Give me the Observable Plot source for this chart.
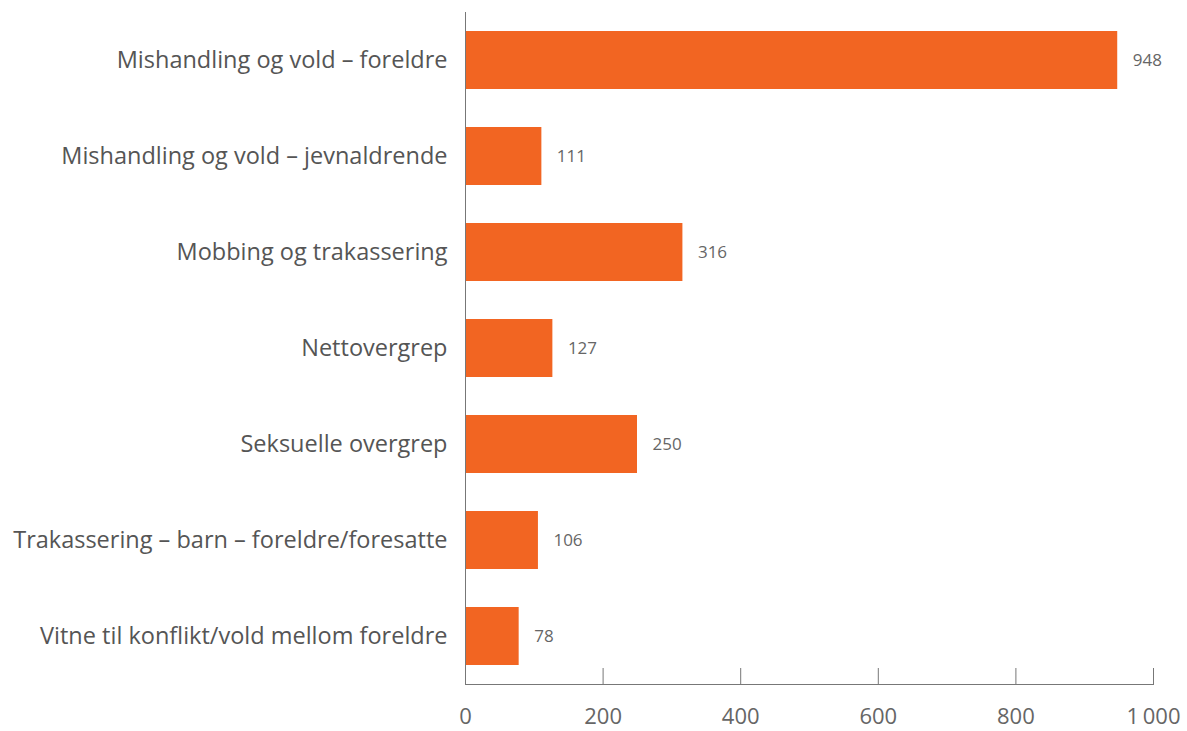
<!DOCTYPE html>
<html>
<head>
<meta charset="utf-8">
<script src="https://cdn.jsdelivr.net/npm/d3@7"></script>
<script src="https://cdn.jsdelivr.net/npm/@observablehq/plot@0.6"></script>
<style>
  html, body { margin: 0; padding: 0; background: #fff; }
  #chart svg { display: block; }
</style>
</head>
<body>
<div id="chart"></div>
<script>
const categories = [
  "Mishandling og vold – foreldre",
  "Mishandling og vold – jevnaldrende",
  "Mobbing og trakassering",
  "Nettovergrep",
  "Seksuelle overgrep",
  "Trakassering – barn – foreldre/foresatte",
  "Vitne til konflikt/vold mellom foreldre"
];
const values = [948, 111, 316, 127, 250, 106, 78];
const xTicks = [0, 200, 400, 600, 800, 1000];

const data = categories.map((c, i) => ({category: c, value: values[i]}));
const fmt = d3.formatLocale({thousands: "\u2009", grouping: [3], decimal: ","}).format(",");
const font = "'Open Sans', 'Noto Sans', sans-serif";

const chart = Plot.plot({
  width: 1187,
  height: 731,
  marginTop: 12,
  marginBottom: 47,
  marginLeft: 465,
  marginRight: 34,
  style: {fontFamily: font, background: "#fff"},
  x: {domain: [0, 1000]},
  y: {domain: categories, paddingInner: 0.4, paddingOuter: 0.2},
  marks: [
    Plot.barX(data, {x: "value", y: "category", fill: "#F26522"}),
    Plot.text(data, {x: "value", y: "category", text: d => String(d.value), textAnchor: "start", dx: 15, fontSize: 17, fill: "#666"}),
    Plot.axisY({tickSize: 0, tickPadding: 18, fontSize: 23.5, color: "#555", label: null}),
    Plot.axisX({ticks: xTicks, tickSize: -16, text: null, stroke: "#777", label: null}),
    Plot.axisX({ticks: xTicks, tickSize: 0, tickPadding: 24, fontSize: 22, color: "#666", tickFormat: fmt, label: null}),
    Plot.frame({anchor: "left", stroke: "#777"}),
    Plot.frame({anchor: "bottom", stroke: "#777"})
  ]
});
document.getElementById("chart").appendChild(chart);
</script>
</body>
</html>
